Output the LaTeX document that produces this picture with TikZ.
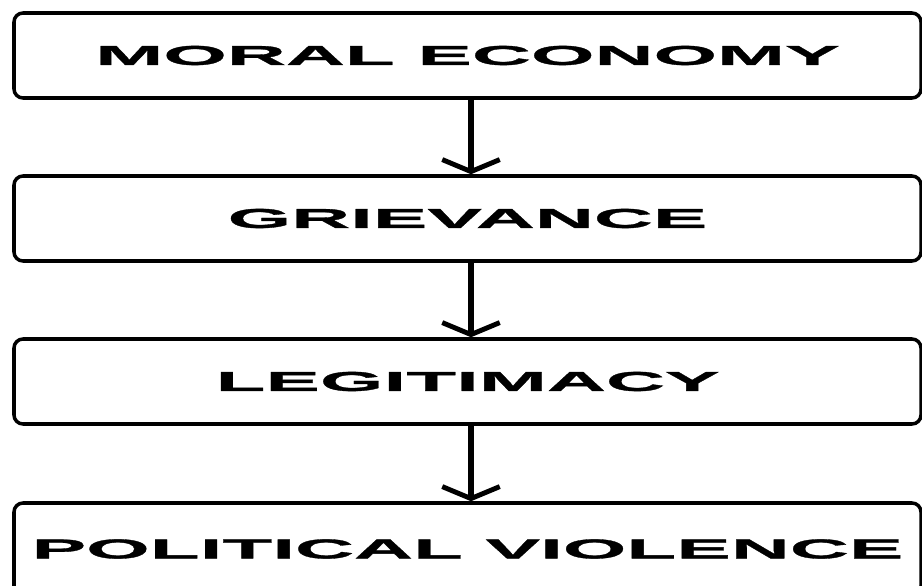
\documentclass[tikz,border=0pt]{standalone}
\usepackage{fontspec}
\setmainfont{Liberation Sans}
\newfontfamily\widefont[FakeStretch=3.0, FakeBold=1.2]{Liberation Sans}
\usetikzlibrary{arrows.meta}
\tikzstyle{stage} = [rectangle, rounded corners=0.18cm, minimum width=18.14cm, minimum height=1.7cm, text centered, draw=black, line width=2pt, font=\widefont\bfseries\fontsize{15.5}{18}\selectfont]
\tikzstyle{arrow} = [line width=3.4pt, -{Straight Barb[length=0.24cm, width=1.15cm, line width=2.8pt]}]

\begin{document}
\begin{tikzpicture}[node distance=3.26cm]
           \useasboundingbox (0,0) rectangle (18.44,-11.72);
           \node (moral) [stage] at (9.35,-1.11) {MORAL ECONOMY};
           \node (grievance) [stage, below of=moral] {GRIEVANCE};
           \node (legitimacy) [stage, below of=grievance] {LEGITIMACY};
           \node (violence) [stage, below of=legitimacy, yshift=-0.09cm, minimum height=1.84cm] {POLITICAL VIOLENCE};

           \draw [arrow] ([xshift=0.07cm]moral.south) -- ([xshift=0.07cm]grievance.north);
           \draw [arrow] ([xshift=0.07cm]grievance.south) -- ([xshift=0.07cm]legitimacy.north);
           \draw [arrow] ([xshift=0.07cm]legitimacy.south) -- ([xshift=0.07cm]violence.north);
        \end{tikzpicture}
\end{document}
